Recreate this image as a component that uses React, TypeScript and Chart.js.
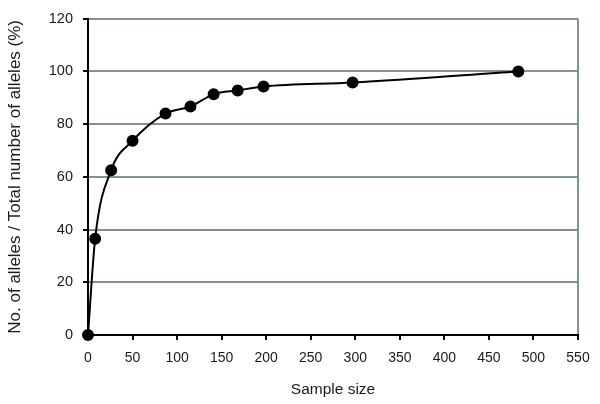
import React, { useEffect, useRef } from "react";
import { Chart, registerables } from "chart.js";

Chart.register(...registerables);

const sampleSizes = [0, 8, 26, 50, 87, 115, 141, 168, 197, 297, 483];
const allelePercent = [0, 36.5, 62.5, 73.7, 84.0, 86.7, 91.3, 92.8, 94.3, 95.8, 100];
const xTicks = [0, 50, 100, 150, 200, 250, 300, 350, 400, 450, 500, 550];
const yTicks = [0, 20, 40, 60, 80, 100, 120];

const GRID = "#7f9393";
const FONT = "'Liberation Sans', Arial, sans-serif";

export default function App() {
  const ref = useRef<HTMLCanvasElement | null>(null);
  useEffect(() => {
    document.body.style.margin = "0";
    const chart = new Chart(ref.current!, {
      type: "line",
      data: {
        datasets: [
          {
            data: sampleSizes.map((x, i) => ({ x, y: allelePercent[i] })),
            borderColor: "#000",
            backgroundColor: "#000",
            borderWidth: 2,
            pointRadius: 5,
            pointBackgroundColor: "#000",
            pointBorderColor: "#000",
            cubicInterpolationMode: "monotone",
            fill: false,
            clip: false,
          },
        ],
      },
      options: {
        animation: false,
        responsive: false,
        layout: { padding: { left: 1, right: 22, top: 17, bottom: 1 } },
        plugins: { legend: { display: false }, tooltip: { enabled: false } },
        scales: {
          x: {
            type: "linear",
            min: 0,
            max: 550,
            afterBuildTicks: (s: any) => {
              s.ticks = xTicks.map((v) => ({ value: v }));
            },
            afterFit: (s: any) => {
              s.height = 68;
            },
            ticks: { color: "#1a1a1a", font: { family: FONT, size: 14 }, padding: 10, maxRotation: 0 },
            grid: {
              color: (c: any) => (c.tick && c.tick.value === 550 ? GRID : "rgba(0,0,0,0)"),
              lineWidth: 2,
              tickColor: "#000",
              tickLength: 5,
            },
            border: { color: "#000", width: 2 },
            title: {
              display: true,
              text: "Sample size",
              color: "#1a1a1a",
              font: { family: FONT, size: 15.5 },
              padding: { top: 4, bottom: 4 },
            },
          },
          y: {
            min: 0,
            max: 120,
            afterBuildTicks: (s: any) => {
              s.ticks = yTicks.map((v) => ({ value: v }));
            },
            afterFit: (s: any) => {
              s.width = 87;
            },
            ticks: { color: "#1a1a1a", font: { family: FONT, size: 14.5 }, padding: 10 },
            grid: {
              color: (c: any) => (c.tick && c.tick.value === 0 ? "rgba(0,0,0,0)" : GRID),
              lineWidth: 2,
              tickColor: "#000",
              tickLength: 5,
            },
            border: { color: "#000", width: 2 },
            title: {
              display: true,
              text: "No. of alleles / Total number of alleles (%)",
              color: "#1a1a1a",
              font: { family: FONT, size: 17 },
              padding: { top: 4, bottom: 4 },
            },
          },
        },
      },
    });
    return () => chart.destroy();
  }, []);
  return (
    <div style={{ width: 600, height: 404 }}>
      <canvas ref={ref} width={600} height={404} style={{ display: "block" }} />
    </div>
  );
}
